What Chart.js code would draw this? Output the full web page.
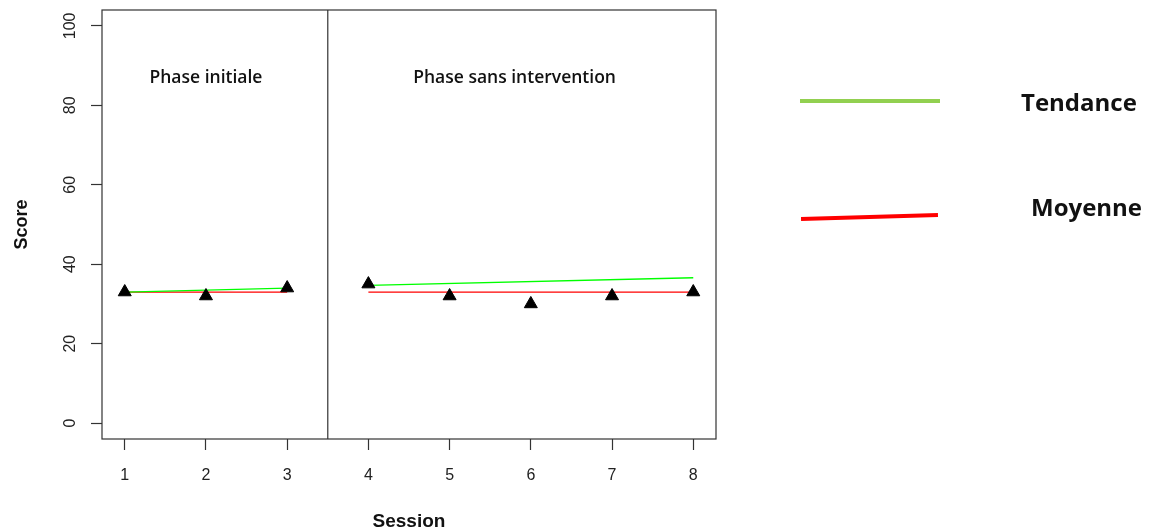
<!DOCTYPE html>
<html lang="fr">
<head>
<meta charset="UTF-8">
<title>Score par session</title>
<style>
    body { margin: 0; background: #fff; }
    #wrap { position: relative; width: 1159px; height: 529px; overflow: hidden; }
    #chart { position: absolute; left: 0; top: 0; }
    .leg-line { position: absolute; height: 4px; }
    .leg-text { position: absolute; font-family: "Open Sans", sans-serif; font-weight: bold; font-size: 24px; line-height: 1; color: #111; white-space: nowrap; }
</style>
</head>
<body>
<div id="wrap">
    <canvas id="chart" width="1159" height="529"></canvas>
    <!-- legende ajoutee a cote du graphique -->
    <div class="leg-line" style="left:800px; top:99px; width:140px; background:#92d050;"></div>
    <div class="leg-text" style="left:1021px; top:90px;">Tendance</div>
    <div class="leg-line" style="left:801px; top:215px; width:137px; background:#ff0000; transform:rotate(-1.7deg);"></div>
    <div class="leg-text" style="left:1031px; top:195px;">Moyenne</div>
</div>
<script src="https://cdn.jsdelivr.net/npm/chart.js"></script>
<script>
    'use strict';
    // donnees
    var sessions = [1, 2, 3, 4, 5, 6, 7, 8];
    var scores = [33, 32, 34, 35, 32, 30, 32, 33];
    var phaseNames = ['Phase initiale', 'Phase sans intervention'];
    var phaseStart = [1, 4];     // premiere session de chaque phase
    var phaseEnd = [3, 8];       // derniere session de chaque phase
    var meanValues = [33, 33];   // moyenne (ligne rouge)
    var trendStart = [33, 34.7]; // tendance au debut de la phase
    var trendEnd = [34, 36.6];   // tendance a la fin de la phase
    var phaseLabelX = [2, 5.8];
    var phaseLabelY = 87;
    var phaseBoundary = 3.5;
    var yTicks = [0, 20, 40, 60, 80, 100];

    var axisColor = '#333';
    var tickFont = { family: '"Liberation Sans", Arial, sans-serif', size: 16 };

    var datasets = [];
    // lignes de tendance et de moyenne pour chaque phase
    for (var i = 0; i < phaseNames.length; i++) {
        datasets.push({
            label: 'Tendance ' + phaseNames[i],
            data: [{ x: phaseStart[i], y: trendStart[i] }, { x: phaseEnd[i], y: trendEnd[i] }],
            showLine: true,
            borderColor: '#00ff00',
            borderWidth: 1.3,
            pointRadius: 0,
            order: 2
        });
        datasets.push({
            label: 'Moyenne ' + phaseNames[i],
            data: [{ x: phaseStart[i], y: meanValues[i] }, { x: phaseEnd[i], y: meanValues[i] }],
            showLine: true,
            borderColor: '#ff0000',
            borderWidth: 1.3,
            pointRadius: 0,
            order: 3
        });
    }
    // points (triangles noirs)
    datasets.push({
        label: 'Score',
        data: sessions.map(function (s, k) { return { x: s, y: scores[k] }; }),
        pointStyle: 'triangle',
        pointRadius: 7.5,
        backgroundColor: '#000',
        borderColor: '#000',
        borderWidth: 1,
        order: 1
    });

    // cadre, separation des phases et titres des phases
    var framePlugin = {
        id: 'frame',
        beforeDatasetsDraw: function (chart) {
            var c = chart.ctx;
            var a = chart.chartArea;
            var xs = chart.scales.x.getPixelForValue(phaseBoundary);
            c.save();
            c.strokeStyle = axisColor;
            c.lineWidth = 1.2;
            c.strokeRect(a.left, a.top, a.right - a.left, a.bottom - a.top);
            c.beginPath();
            c.moveTo(xs, a.top);
            c.lineTo(xs, a.bottom);
            c.stroke();
            c.restore();
        },
        afterDraw: function (chart) {
            var c = chart.ctx;
            c.save();
            c.fillStyle = '#111';
            c.font = '600 17.5px "Open Sans", sans-serif';
            c.textAlign = 'center';
            c.textBaseline = 'middle';
            for (var i = 0; i < phaseNames.length; i++) {
                c.fillText(phaseNames[i],
                    chart.scales.x.getPixelForValue(phaseLabelX[i]),
                    chart.scales.y.getPixelForValue(phaseLabelY));
            }
            c.restore();
        }
    };

    var chart = new Chart(document.getElementById('chart'), {
        type: 'scatter',
        data: { datasets: datasets },
        options: {
            responsive: false,
            animation: false,
            layout: { padding: { top: 10, left: 0, right: 443, bottom: 0 } },
            plugins: {
                legend: { display: false },
                tooltip: { enabled: false }
            },
            scales: {
                x: {
                    type: 'linear',
                    min: 0.72,
                    max: 8.28,
                    afterBuildTicks: function (scale) {
                        scale.ticks = sessions.map(function (v) { return { value: v }; });
                    },
                    afterFit: function (scale) {
                        scale.height = 90;
                        scale.paddingLeft = 0;
                        scale.paddingRight = 0;
                    },
                    border: { display: false },
                    grid: { drawOnChartArea: false, drawTicks: true, tickLength: 11, color: axisColor, tickColor: axisColor, tickWidth: 1.2 },
                    ticks: { color: '#222', font: tickFont, padding: 16, maxRotation: 0, minRotation: 0 },
                    title: {
                        display: true, text: 'Session', color: '#111',
                        font: { family: '"Liberation Sans", Arial, sans-serif', size: 19, weight: 'bold' },
                        padding: { top: 0, bottom: -4 }
                    }
                },
                y: {
                    min: -4,
                    max: 104,
                    afterBuildTicks: function (scale) {
                        scale.ticks = yTicks.map(function (v) { return { value: v }; });
                    },
                    afterFit: function (scale) {
                        scale.width = 102;
                        scale.paddingTop = 0;
                        scale.paddingBottom = 0;
                    },
                    border: { display: false },
                    grid: { drawOnChartArea: false, drawTicks: true, tickLength: 11, color: axisColor, tickColor: axisColor, tickWidth: 1.2 },
                    ticks: { color: '#222', font: tickFont, padding: 7, minRotation: 90, maxRotation: 90, crossAlign: 'center' },
                    title: {
                        display: true, text: 'Score', color: '#111',
                        font: { family: '"Liberation Sans", Arial, sans-serif', size: 18, weight: 'bold' },
                        padding: { top: 11, bottom: 0 }
                    }
                }
            }
        },
        plugins: [framePlugin]
    });
</script>
</body>
</html>
